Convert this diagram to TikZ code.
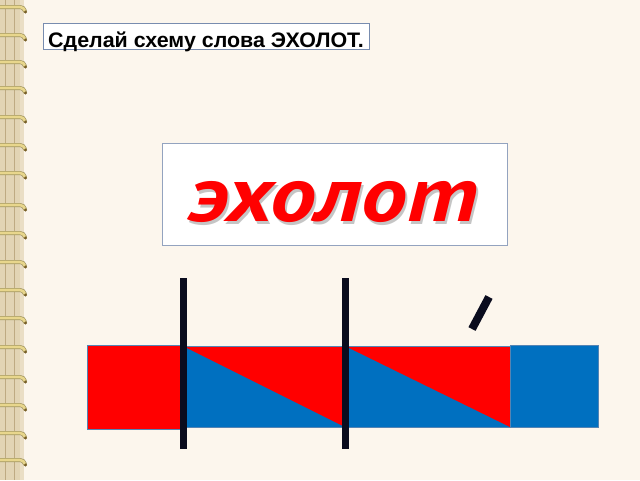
\documentclass[tikz,border=0pt]{standalone}
\usepackage{fontspec}
\setmainfont{Liberation Sans}
\newfontfamily\wordfont{PT Sans}
\definecolor{bgc}{RGB}{252,246,237}
\definecolor{stripc}{RGB}{226,212,180}
\definecolor{stripline}{RGB}{190,170,130}
\definecolor{ringc}{RGB}{232,214,140}
\definecolor{ringdark}{RGB}{120,95,40}
\definecolor{boxc}{RGB}{120,140,175}
\definecolor{sred}{RGB}{255,0,0}
\definecolor{sblue}{RGB}{0,112,192}
\definecolor{bar}{RGB}{10,12,30}
\tikzset{
  frame/.style={draw=boxc, line width=0.8pt, fill=white, inner sep=0pt},
  cell/.style={draw=boxc!70!sblue, line width=0.5pt},
  divider/.style={line width=7pt, draw=bar},
  bigword/.style={font=\wordfont\bfseries\itshape\fontsize{78}{78}\selectfont, anchor=base, inner sep=0pt},
}
\begin{document}
\begin{tikzpicture}[x=1pt,y=-1pt]
\fill[bgc] (0,0) rectangle (640,480);
\useasboundingbox (0,0) rectangle (640,480);
% binding strip
\fill[stripc] (0,0) rectangle (20,480);
\fill[stripc!70!bgc] (20,0) rectangle (24,480);
\draw[stripline, line width=0.8pt] (5,0) -- (5,480) (14,0) -- (14,480);
\foreach \yy in {7,35,62,88,117,145,173,205,233,262,290,318,347,377,405,433,460} {
  \draw[ringc!70!black, line width=4pt, line cap=round] (-2,\yy) -- (20,\yy) to[out=0,in=110] (25,\yy+4);
  \draw[ringc, line width=2.6pt, line cap=round] (-2,\yy) -- (20,\yy) to[out=0,in=110] (25,\yy+4);
  \fill[ringdark] (25.5,\yy+5) circle (1.6);
}
% title
\node[frame, minimum width=326pt, minimum height=26pt, anchor=north west] (title) at (43,23) {};
\node[font=\bfseries\fontsize{21}{21}\selectfont, anchor=base west, inner sep=0pt] (titletext) at (48,47) {\scalebox{1.02}[1]{Сделай схему слова ЭХОЛОТ.}};
% big word box
\node[frame, draw=boxc!80, minimum width=345pt, minimum height=102pt, anchor=north west] (wbox) at (162,143) {};
\node[bigword, text=black!45, opacity=0.5] (wordshadow) at (336,224) {\scalebox{1.185}[1]{эхолот}};
\node[bigword, text=sred] (word) at (334,221) {\scalebox{1.185}[1]{эхолот}};
% scheme
\fill[sred] (87,345) rectangle (183,429);
\draw[cell] (87,345) rectangle (183,429);
\fill[sblue] (183,346) rectangle (345,427);
\fill[sred] (183,346) -- (345,346) -- (345,427) -- cycle;
\draw[cell] (183,346) rectangle (345,427);
\fill[sblue] (345,346) rectangle (510,427);
\fill[sred] (345,346) -- (510,346) -- (510,427) -- cycle;
\draw[cell] (345,346) rectangle (510,427);
\fill[sblue] (510,345) rectangle (598,427);
\draw[cell] (510,345) rectangle (598,427);
\coordinate (d1t) at (183,278); \coordinate (d1b) at (183,449);
\coordinate (d2t) at (345,278); \coordinate (d2b) at (345,449);
\draw[divider] (d1t) -- (d1b);
\draw[divider] (d2t) -- (d2b);
\coordinate (s1) at (472,329); \coordinate (s2) at (489,297);
\draw[line width=8pt, draw=bar] (s1) -- (s2);
\end{tikzpicture}
\end{document}
